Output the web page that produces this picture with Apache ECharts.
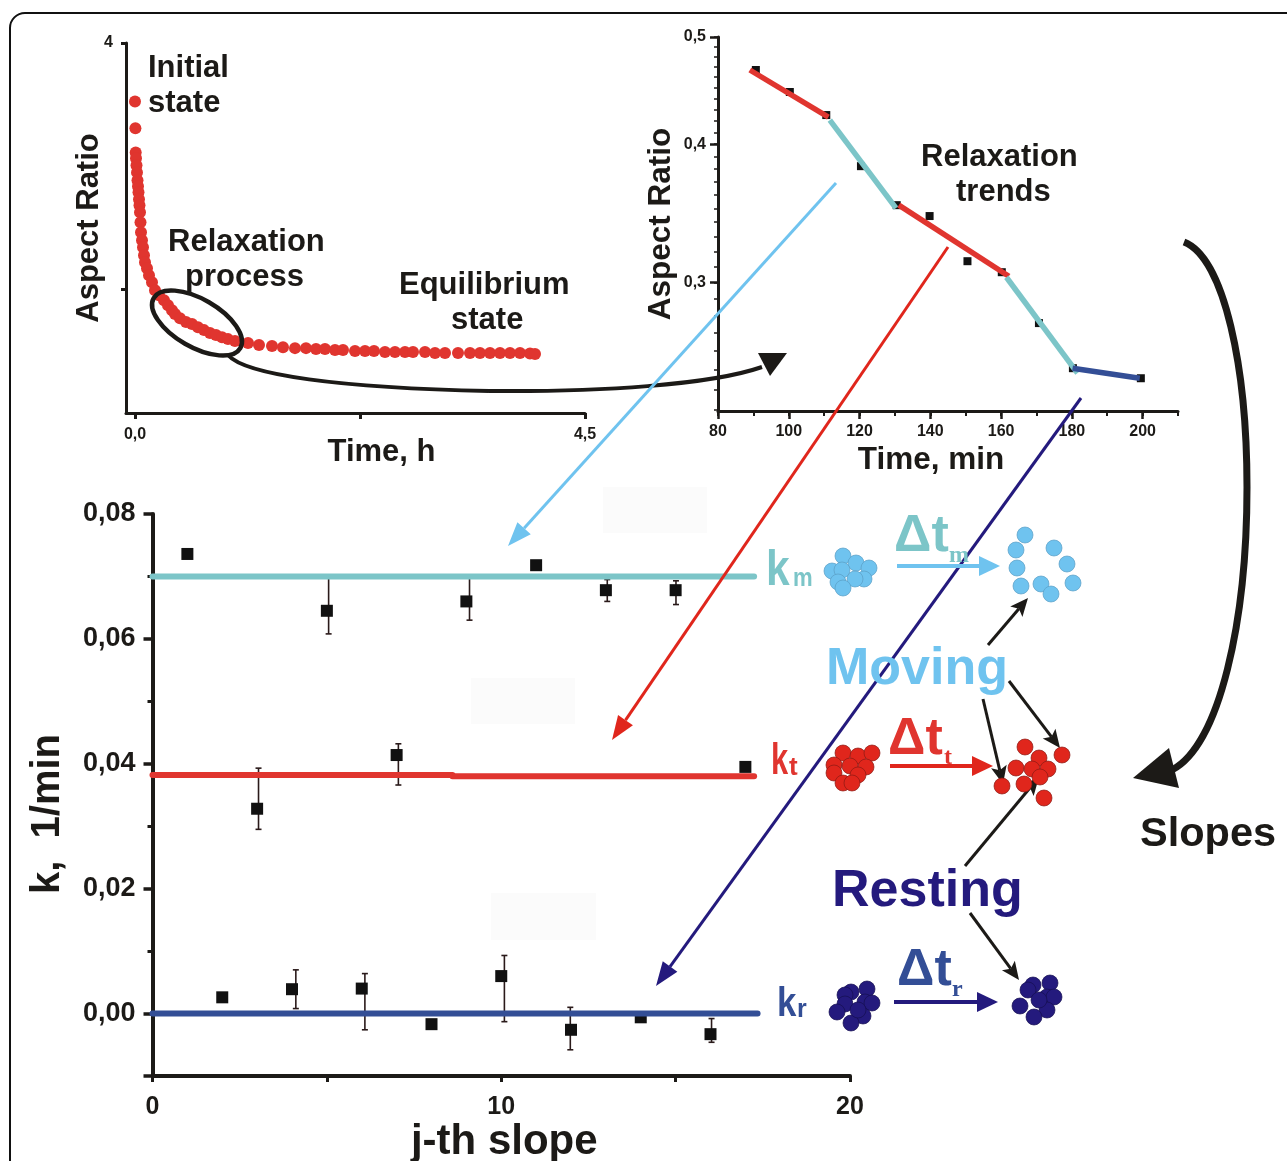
<!DOCTYPE html>
<html>
<head>
<meta charset="utf-8">
<style>html,body{margin:0;padding:0;background:#fff}#c{width:1287px;height:1161px}</style>
<script src="https://cdn.jsdelivr.net/npm/echarts@6/dist/echarts.min.js"></script>
</head>
<body>
<div id="c"></div>
<script>
// ---------- Panel A: relaxation curve (hours, aspect ratio)
const relaxHours = [0,0.004,0.007,0.01,0.015,0.02,0.025,0.03,0.035,0.04,0.045,0.05,0.055,0.06,0.07,0.08,0.09,0.1,0.12,0.14,0.17,0.2,0.24,0.29,0.33,0.37,0.4,0.45,0.51,0.57,0.63,0.69,0.75,0.81,0.87,0.93,1.0,1.13,1.24,1.37,1.48,1.6,1.71,1.81,1.9,2.0,2.08,2.2,2.3,2.39,2.5,2.6,2.7,2.78,2.9,3.0,3.1,3.23,3.35,3.45,3.55,3.65,3.75,3.85,3.95,4.0];
const relaxRatio = [3.526,3.308,3.113,3.065,3.008,2.951,2.887,2.838,2.789,2.733,2.684,2.628,2.547,2.466,2.401,2.344,2.279,2.223,2.174,2.117,2.061,1.996,1.955,1.915,1.874,1.834,1.802,1.769,1.737,1.721,1.696,1.672,1.648,1.632,1.615,1.599,1.583,1.567,1.551,1.543,1.534,1.526,1.526,1.518,1.518,1.51,1.51,1.502,1.502,1.502,1.494,1.494,1.494,1.494,1.494,1.486,1.486,1.486,1.486,1.486,1.486,1.486,1.486,1.486,1.482,1.478];
const aXTicks = [0,2.25,4.5];
const aXLabels = [0,4.5];
const aYTicks = [2,4];
const aYLabels = [4];

// ---------- Panel B: relaxation trends (minutes, aspect ratio)
const trendMin = [90.7,100.3,110.6,120.4,130.5,139.8,150.5,160.2,170.7,180.3,199.5];
const trendRatio = [0.4668,0.4459,0.425,0.3821,0.3523,0.3444,0.3135,0.3064,0.2756,0.2509,0.2457];
const trendRed1 = [[89,0.4668],[111.2,0.4232]];
const trendTeal1 = [[111.6,0.4206],[130.3,0.3501]];
const trendRed2 = [[131.1,0.3523],[162.2,0.3038]];
const trendTeal2 = [[161.5,0.3032],[181.6,0.2483]];
const trendBlue = [[180.2,0.2509],[199.2,0.2457]];
const bXLabels = [80,100,120,140,160,180,200];
const bYLabels = [0.3,0.4,0.5];
const bYMinor = [0.23,0.24,0.25,0.26,0.27,0.28,0.29,0.3,0.31,0.32,0.33,0.34,0.35,0.36,0.37,0.38,0.39,0.4,0.41,0.42,0.43,0.44,0.45,0.46,0.47,0.48,0.49,0.5];

// ---------- Panel C: k per slope
const slopeJ = [1,2,3,4,5,6,7,8,9,10,11,12,13,14,15,16,17];
const slopeK = [0.0736,0.0026,0.0328,0.0039,0.0645,0.004,0.0414,-0.0017,0.066,0.006,0.0718,-0.0026,0.0678,-0.0006,0.0678,-0.0033,0.0395];
const errX = [3.04,4.11,5.05,6.09,7.05,9.09,10.09,11.98,13.04,15.01,16.03];
const errHigh = [0.0393,0.007,0.0699,0.0064,0.0432,0.07,0.0093,0.001,0.0695,0.0693,-0.0008];
const errLow = [0.0295,0.0008,0.0608,-0.0026,0.0366,0.063,-0.0013,-0.0058,0.066,0.0655,-0.0046];
const kmLine = [[0,0.07],[17.25,0.07]];
const ktLineLeft = [[0,0.0382],[8.6,0.0382]];
const ktLineRight = [[8.6,0.038],[17.25,0.038]];
const krLine = [[0,0],[17.35,0]];
const cXLabels = [0,10,20];
const cXTicks = [0,5,10,15,20];
const cYLabels = [0,0.02,0.04,0.06,0.08];

// ---------- Schematic labels and colours
const TEAL='#7cc5c8', SKY='#6fc3ef', RED='#e0352f', BRIGHT='#e0261c', NAVY='#241a7d', BLUE='#334e96', INK='#1c1a17';
const FONT='Liberation Sans';
const SERIF='Liberation Serif';
const cm = v => String(v).replace('.',',');

// ---------- Cluster positions of the schematic (page pixels)
const skyLeft=[[843,556],[856,563],[869,568],[832,571],[842,570],[864,579],[855,579],[838,582],[843,588]];
const skyRight=[[1025,535],[1016,550],[1054,548],[1067,564],[1017,568],[1073,583],[1021,586],[1041,584],[1051,594]];
const redLeft=[[843,753],[858,756],[872,753],[834,765],[834,773],[850,766],[866,767],[858,775],[843,783],[852,783]];
const redRight=[[1025,747],[1062,755],[1016,768],[1039,758],[1032,769],[1048,769],[1040,777],[1024,784],[1002,786],[1044,798]];
const navyLeft=[[851,992],[867,989],[845,995],[845,1004],[865,1002],[872,1003],[837,1012],[863,1016],[851,1023],[858,1010]];
const navyRight=[[1033,985],[1050,983],[1028,990],[1047,997],[1054,997],[1020,1006],[1047,1010],[1034,1017],[1039,1000]];

function dots(list,fill,stroke){
  return list.map(p=>({type:'circle',z:60,shape:{cx:p[0],cy:p[1],r:8},style:{fill:fill,stroke:stroke,lineWidth:0.7}}));
}
function arrow(x1,y1,x2,y2,color,w,len,half,notch){
  const d=Math.hypot(x2-x1,y2-y1),ux=(x2-x1)/d,uy=(y2-y1)/d,nx=-uy,ny=ux;
  const bx=x2-ux*len,by=y2-uy*len,cx=x2-ux*(len-notch),cy=y2-uy*(len-notch);
  return [
    {type:'line',z:50,shape:{x1:x1,y1:y1,x2:cx,y2:cy},style:{stroke:color,lineWidth:w}},
    {type:'polygon',z:50,shape:{points:[[x2,y2],[bx+nx*half,by+ny*half],[cx,cy],[bx-nx*half,by-ny*half]]},style:{fill:color}}
  ];
}
function bez(p,color,w){
  return {type:'bezierCurve',z:50,shape:{x1:p[0],y1:p[1],cpx1:p[2],cpy1:p[3],cpx2:p[4],cpy2:p[5],x2:p[6],y2:p[7]},style:{fill:'none',stroke:color,lineWidth:w}};
}
function txt(s,x,y,size,color,family,scaleX){
  return {type:'text',z:70,x:x,y:y,scaleX:scaleX||1,style:{text:s,fill:color,fontFamily:family||FONT,fontWeight:'bold',fontSize:size,textAlign:'left',textVerticalAlign:'middle'}};
}

const graphics=[
  {type:'rect',z:1,shape:{x:603,y:487,width:104,height:46},style:{fill:'#fbfbfb'}},
  {type:'rect',z:1,shape:{x:471,y:678,width:104,height:46},style:{fill:'#fbfbfb'}},
  {type:'rect',z:1,shape:{x:491,y:893,width:105,height:47},style:{fill:'#fbfbfb'}},
  {type:'rect',z:1,shape:{x:10,y:13,width:1500,height:1400,r:15},style:{fill:'none',stroke:'#111',lineWidth:2}},
  {type:'ellipse',z:50,x:197,y:323,rotation:-30*Math.PI/180,shape:{cx:0,cy:0,rx:50,ry:24},style:{fill:'none',stroke:INK,lineWidth:4.5}},
  bez([228,355,245,375,340,388,489,391],INK,4),
  bez([489,391,600,392,710,385,762,367],INK,4),
  {type:'polygon',z:50,shape:{points:[[758,353],[787,353],[770,376]]},style:{fill:INK}},
  bez([1184,242,1225,258,1247,370,1247,487],INK,7),
  bez([1247,487,1247,620,1220,745,1172,770],INK,7),
  {type:'polygon',z:50,shape:{points:[[1133,778],[1169,748],[1179,788]]},style:{fill:INK}},
  ...arrow(836,183,508,546,SKY,3,24,9,0),
  ...arrow(948,247,612,740,BRIGHT,3,24,9,0),
  ...arrow(1081,398,656,986,NAVY,3,24,9,0),
  ...arrow(897,566,1000,566,SKY,4,21,10,0),
  ...arrow(890,766,993,766,BRIGHT,4,21,10,0),
  ...arrow(894,1002,998,1002,NAVY,4,21,10,0),
  ...arrow(988,645,1028,598,INK,3,18,8,4),
  ...arrow(983,699,1003,784,INK,3,18,8,4),
  ...arrow(1009,681,1060,748,INK,3,18,8,4),
  ...arrow(965,866,1039,777,INK,3,18,8,4),
  ...arrow(970,913,1019,980,INK,3,18,8,4),
  ...dots(skyLeft,SKY,'#5a9dc4'),...dots(skyRight,SKY,'#5a9dc4'),
  ...dots(redLeft,BRIGHT,'#8a1a14'),...dots(redRight,BRIGHT,'#8a1a14'),
  ...dots(navyLeft,NAVY,'#151050'),...dots(navyRight,NAVY,'#151050'),
  txt('Initial',148,68,31,INK),
  txt('state',148,103,31,INK),
  txt('Relaxation',168,242,31,INK),
  txt('process',185,277,31,INK),
  txt('Equilibrium',399,285,31,INK),
  txt('state',451,320,31,INK),
  txt('Relaxation',921,157,31,INK),
  txt('trends',956,192,31,INK),
  txt('Slopes',1140,835,41.5,INK),
  txt('Moving',826,670,52,SKY),
  txt('Resting',832,892,52,NAVY),
  txt('k',766,571,50,TEAL,FONT,0.85),
  txt('m',793,579,26,TEAL,FONT,0.85),
  txt('k',771,762,44,RED,FONT,0.7),
  txt('t',789,768,26,RED),
  txt('k',777,1005,41,BLUE,FONT,0.85),
  txt('r',797,1010,25,BLUE),
  txt('Δt',894,537,52,TEAL),
  txt('m',949,556,24,TEAL,SERIF),
  txt('Δt',888,740,52,RED),
  txt('t',944,758,24,RED,SERIF),
  txt('Δt',897,971,52,BLUE),
  txt('r',952,990,24,BLUE,SERIF)
];

function xAxis(grid,min,max,line,opts){
  return Object.assign({type:'value',gridIndex:grid,min:min,max:max,position:'bottom',nameMoveOverlap:false,splitLine:{show:false},
    axisLine:{show:true,onZero:false,lineStyle:{color:INK,width:line}}},opts);
}
function yAxis(grid,min,max,line,opts){
  return Object.assign({type:'value',gridIndex:grid,min:min,max:max,position:'left',nameMoveOverlap:false,splitLine:{show:false},
    axisLine:{show:true,onZero:false,lineStyle:{color:INK,width:line}}},opts);
}
const nameStyle=(size,pad)=>({fontFamily:FONT,fontWeight:'bold',fontSize:size,color:INK,padding:pad||0});
const labelStyle=(size,fmt,vals,margin)=>({show:true,fontFamily:FONT,fontWeight:'bold',fontSize:size,color:INK,margin:margin,formatter:fmt,customValues:vals,hideOverlap:false,showMinLabel:true,showMaxLabel:true});
const hidden={show:false};

const option={
  animation:false,
  backgroundColor:'#fff',
  grid:[
    {left:126,top:43,width:459,height:370,outerBoundsMode:'none'},
    {left:718,top:37,width:460,height:374,outerBoundsMode:'none'},
    {left:152.5,top:514,width:697.5,height:562,outerBoundsMode:'none'}
  ],
  xAxis:[
    xAxis(0,-0.09,4.5,3,{name:'Time, h',nameLocation:'middle',nameGap:24,nameTextStyle:nameStyle(31,[0,0,0,52]),
      axisTick:{customValues:aXTicks,length:6,lineStyle:{color:INK,width:3}},
      axisLabel:labelStyle(16,v=>v.toFixed(1).replace('.',','),aXLabels,14)}),
    xAxis(1,80,210,3,{name:'Time, min',nameLocation:'middle',nameGap:33,nameTextStyle:nameStyle(31.5,[0,34,0,0]),
      axisTick:{customValues:bXLabels,length:8,lineStyle:{color:INK,width:2.5}},
      axisLabel:labelStyle(16,v=>String(v),bXLabels,13)}),
    xAxis(1,80,210,0,{axisLine:{show:false},axisLabel:hidden,interval:10,axisTick:{length:5,lineStyle:{color:INK,width:2}}}),
    xAxis(2,0,20,4,{name:'j-th slope',nameLocation:'middle',nameGap:45,nameTextStyle:nameStyle(42,[0,0,0,6]),
      axisTick:{customValues:cXTicks,length:6,lineStyle:{color:INK,width:3}},
      axisLabel:labelStyle(25,v=>String(v),cXLabels,19)})
  ],
  yAxis:[
    yAxis(0,1,4,3,{name:'Aspect Ratio',nameLocation:'middle',nameGap:21,nameTextStyle:nameStyle(31),
      axisTick:{customValues:aYTicks,length:5,lineStyle:{color:INK,width:3}},
      axisLabel:labelStyle(16,v=>String(v),aYLabels,13)}),
    {type:'log',gridIndex:1,logBase:10,min:0.2295,max:0.5,position:'left',nameMoveOverlap:false,splitLine:{show:false},
      axisLine:{show:true,onZero:false,lineStyle:{color:INK,width:3}},
      name:'Aspect Ratio',nameLocation:'middle',nameGap:33,nameTextStyle:nameStyle(31.5,[0,0,8,0]),
      axisTick:{customValues:bYLabels,length:8,lineStyle:{color:INK,width:2.5}},
      axisLabel:labelStyle(16,v=>cm(v),bYLabels,12)},
    {type:'log',gridIndex:1,logBase:10,min:0.2295,max:0.5,position:'left',splitLine:{show:false},
      axisLine:{show:false},axisLabel:hidden,axisTick:{customValues:bYMinor,length:4,lineStyle:{color:INK,width:1.5}}},
    yAxis(2,-0.01,0.08,4,{name:'k,  1/min',nameLocation:'middle',nameGap:85,nameTextStyle:nameStyle(40,[0,38,0,0]),
      axisTick:{customValues:cYLabels.concat([-0.01]),length:9,lineStyle:{color:INK,width:3.5}},
      axisLabel:labelStyle(27,v=>v===0?'0,00':v.toFixed(2).replace('.',','),cYLabels,17)}),
    yAxis(2,-0.01,0.08,0,{axisLine:{show:false},axisLabel:hidden,axisTick:{customValues:[0.01,0.03,0.05,0.07],length:5,lineStyle:{color:INK,width:3}}})
  ],
  series:[
    {type:'scatter',xAxisIndex:0,yAxisIndex:0,symbolSize:12,itemStyle:{color:RED,opacity:1},data:relaxHours.map((h,i)=>[h,relaxRatio[i]])},
    {type:'scatter',xAxisIndex:1,yAxisIndex:1,symbol:'rect',symbolSize:8,itemStyle:{color:'#111',opacity:1},z:2,data:trendMin.map((m,i)=>[m,trendRatio[i]])},
    ...[[trendRed1,RED],[trendTeal1,TEAL],[trendRed2,RED],[trendTeal2,TEAL],[trendBlue,BLUE]].map(s=>({
      type:'line',xAxisIndex:1,yAxisIndex:1,showSymbol:false,z:3,lineStyle:{color:s[1],width:5.5},data:s[0]})),
    {type:'custom',xAxisIndex:3,yAxisIndex:3,z:2,
      renderItem:(p,api)=>{
        const x=api.value(0),t=api.coord([x,api.value(1)]),b=api.coord([x,api.value(2)]);
        const st={stroke:'#2a1a1a',lineWidth:1.6};
        return {type:'group',children:[
          {type:'line',shape:{x1:t[0],y1:t[1],x2:b[0],y2:b[1]},style:st},
          {type:'line',shape:{x1:t[0]-3,y1:t[1],x2:t[0]+3,y2:t[1]},style:st},
          {type:'line',shape:{x1:b[0]-3,y1:b[1],x2:b[0]+3,y2:b[1]},style:st}]};
      },
      data:errX.map((x,i)=>[x,errHigh[i],errLow[i]])},
    {type:'scatter',xAxisIndex:3,yAxisIndex:3,symbol:'rect',symbolSize:12,itemStyle:{color:'#111',opacity:1},z:3,data:slopeJ.map((j,i)=>[j,slopeK[i]])},
    ...[[kmLine,TEAL],[ktLineLeft,RED],[ktLineRight,RED],[krLine,BLUE]].map(s=>({
      type:'line',xAxisIndex:3,yAxisIndex:3,showSymbol:false,z:4,lineStyle:{color:s[1],width:6,cap:'round'},data:s[0]}))
  ],
  graphic:{elements:graphics}
};
const chart=echarts.init(document.getElementById('c'),null,{renderer:'canvas',width:1287,height:1161});
chart.setOption(option);
</script>
</body>
</html>
